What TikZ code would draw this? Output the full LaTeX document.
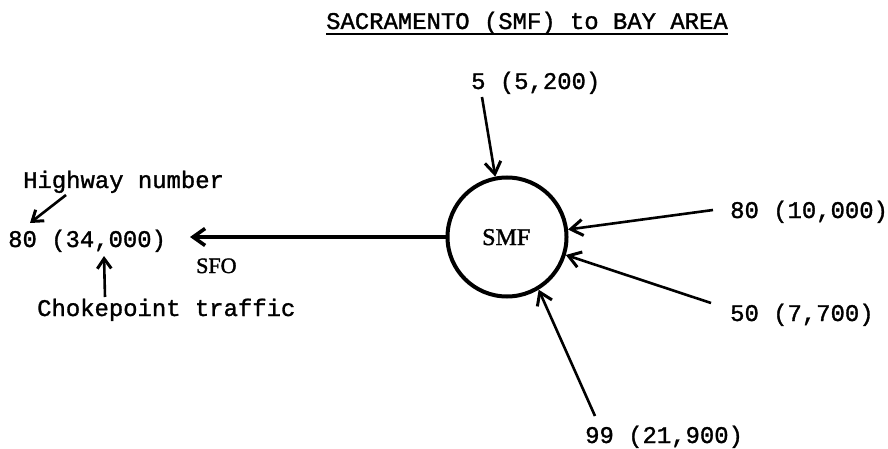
\documentclass[tikz,border=0pt]{standalone}
\usepackage{fontspec}
\setmainfont{Liberation Serif}
\newfontfamily\typer{Liberation Mono}[FakeBold=1.3]
\newfontfamily\labser{Liberation Serif}[FakeBold=1.6]
\usetikzlibrary{arrows.meta}
\tikzset{
  tw/.style={font=\typer\fontsize{23.9}{26}\selectfont, inner sep=0pt, anchor=base west},
  sf/.style={font=\labser\fontsize{22}{24}\selectfont, inner sep=0pt, anchor=base west},
  flow/.style={line width=2.6pt, -{Straight Barb[length=12pt,width=16pt,line width=3pt]}},
  mainflow/.style={line width=3.6pt, -{Straight Barb[length=12pt,width=17pt,line width=3.6pt]}},
  note/.style={line width=2.6pt, -{Straight Barb[length=10pt,width=14pt,line width=3pt]}},
}
\begin{document}
\begin{tikzpicture}[x=1pt,y=-1pt]
\useasboundingbox (0,0) rectangle (888,449);

% title
\node[tw] (title) at (326,29) {SACRAMENTO (SMF) to BAY AREA};
\draw[line width=1.8pt] (title.south west |- 0,34) -- (title.south east |- 0,34);

% origin airport
\node[circle, draw, line width=4pt, minimum size=119pt, inner sep=0pt] (smf) at (507,237) {};
\node[sf, font=\labser\fontsize{24}{26}\selectfont] (smflbl) at (482,245) {SMF};

% inbound highways
\node[tw] (h5) at (471,89) {5 (5,200)};
\node[tw] (h80e) at (730,218) {80 (10,000)};
\node[tw] (h50) at (730,321) {50 (7,700)};
\node[tw] (h99) at (585,443) {99 (21,900)};

\coordinate (s5) at (482,97);
\coordinate (s80e) at (713,210);
\coordinate (s50) at (711,303);
\coordinate (s99) at (595,416);

\draw[flow] (s5) -- (smf.{101});
\draw[flow] (s80e) -- (smf.{7});
\draw[flow] (s50) -- (smf.{-17});
\draw[flow] (s99) -- (smf.{-59});

% outbound to SFO
\node[tw] (h80w) at (8,247) {80 (34,000)};
\node[sf] (sfo) at (196,273) {SFO};
\coordinate (sfotip) at (190,237);
\draw[mainflow] (smf.west) -- (sfotip);

% legend
\node[tw] (hwy) at (23,188) {Highway number};
\node[tw] (choke) at (37,316) {Chokepoint traffic};
\coordinate (hwyfrom) at (66,195);
\coordinate (hwyto) at (30,223);
\coordinate (chokefrom) at (105,297);
\coordinate (choketo) at (104,256);
\draw[note] (hwyfrom) -- (hwyto);
\draw[note] (chokefrom) -- (choketo);
\end{tikzpicture}
\end{document}
